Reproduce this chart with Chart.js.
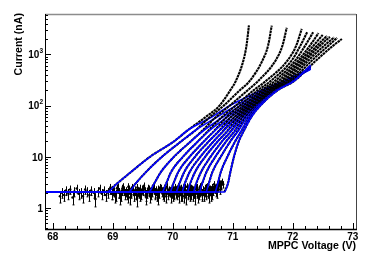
<!DOCTYPE html>
<html>
<head>
<meta charset="utf-8">
<script src="https://cdn.jsdelivr.net/npm/chart.js@4.4.1/dist/chart.umd.min.js"></script>
<style>
  html, body { margin: 0; padding: 0; background: #fff; }
  #wrap { width: 374px; height: 255px; position: relative; }
</style>
</head>
<body>
<div id="wrap"><canvas id="iv"></canvas></div>
<script>
// axis ranges (V, nA)
const xRange = [67.87, 73.055];
const yRange = [0.389, 6150];
const xMajorTicks = [68, 69, 70, 71, 72, 73];
const yMajorTicks = [1, 10, 100, 1000];
const yTickLabels = [["1", ""], ["10", ""], ["10", "2"], ["10", "3"]];

// dark current below breakdown, all scans together
const darkV = [68.12, 68.15, 68.19, 68.22, 68.26, 68.29, 68.33, 68.36, 68.40, 68.43, 68.47, 68.50, 68.54,
  68.57, 68.61, 68.64, 68.68, 68.71, 68.75, 68.78, 68.82, 68.85, 68.89, 68.92, 68.96, 68.99,
  69.02, 69.05, 69.07, 69.10, 69.12, 69.15, 69.17, 69.20, 69.22, 69.25, 69.27, 69.30, 69.32, 69.35,
  69.37, 69.40, 69.42, 69.45, 69.47, 69.50, 69.52, 69.55, 69.57, 69.60, 69.62, 69.65, 69.67, 69.70,
  69.72, 69.75, 69.77, 69.80, 69.82, 69.85, 69.87, 69.90, 69.92, 69.95, 69.97, 70.00,
  70.02, 70.04, 70.06, 70.08, 70.10, 70.12, 70.14, 70.16, 70.18, 70.20, 70.22, 70.24, 70.26, 70.28,
  70.30, 70.32, 70.34, 70.36, 70.38, 70.40, 70.42, 70.44, 70.46, 70.48, 70.50, 70.52, 70.54, 70.56,
  70.58, 70.60, 70.62, 70.64, 70.66, 70.68, 70.70, 70.72, 70.74, 70.76, 70.78, 70.80, 70.82, 70.84];
const darkI = [1.7, 2.0, 1.8, 2.2, 1.9, 2.3, 1.6, 2.1, 2.4, 1.9, 2.0, 1.7, 2.3,
  2.1, 1.8, 2.2, 2.0, 1.5, 2.1, 2.4, 1.9, 2.2, 1.8, 2.0, 2.5, 1.9,
  2.1, 1.8, 2.4, 2.0, 1.6, 2.2, 2.6, 1.9, 2.1, 1.7, 2.3, 2.0, 2.5, 1.8,
  2.2, 1.5, 2.1, 2.4, 1.9, 2.2, 2.7, 1.8, 2.0, 2.3, 1.7, 2.1, 2.5, 1.9,
  2.2, 1.6, 2.0, 2.4, 2.1, 1.8, 2.3, 2.6, 1.9, 2.1, 1.7, 2.2,
  1.9, 2.3, 2.0, 2.6, 1.7, 2.2, 2.4, 1.8, 2.1, 2.5, 1.6, 2.2, 2.0, 2.7,
  1.9, 2.3, 1.8, 2.1, 2.4, 2.0, 1.7, 2.3, 2.6, 1.9, 2.2, 1.8, 2.1, 2.5,
  2.0, 1.7, 2.3, 2.2, 1.9, 2.6, 2.4, 2.1, 2.8, 2.5, 3.0, 2.7, 3.3, 2.9];
// second pass of scans over the denser part
const darkV2 = [68.95, 68.98, 69.01, 69.04, 69.08, 69.11, 69.14, 69.16, 69.19, 69.23,
  69.26, 69.29, 69.31, 69.34, 69.38, 69.41, 69.44, 69.46, 69.49, 69.53,
  69.56, 69.59, 69.61, 69.64, 69.68, 69.71, 69.74, 69.76, 69.79, 69.83,
  69.86, 69.89, 69.91, 69.94, 69.98, 70.01, 70.03, 70.05, 70.07, 70.09,
  70.11, 70.13, 70.15, 70.17, 70.19, 70.21, 70.23, 70.25, 70.27, 70.29,
  70.31, 70.33, 70.35, 70.37, 70.39, 70.41, 70.43, 70.45, 70.47, 70.49,
  70.51, 70.53, 70.55, 70.57, 70.59, 70.61, 70.63, 70.65, 70.67, 70.69,
  70.71, 70.73, 70.75, 70.77, 70.79, 70.81];
const darkI2 = [2.3, 1.9, 2.2, 1.7, 2.5, 2.0, 1.8, 2.4, 2.2, 1.9,
  2.6, 1.6, 2.1, 2.3, 1.9, 2.5, 2.0, 1.8, 2.3, 2.1,
  1.6, 2.4, 2.2, 1.9, 2.6, 2.0, 1.8, 2.3, 2.5, 1.9,
  2.1, 1.7, 2.4, 2.2, 2.0, 1.8, 2.5, 2.2, 1.9, 2.3,
  2.7, 1.8, 2.0, 2.4, 1.7, 2.2, 2.6, 1.9, 2.1, 1.8,
  2.4, 2.2, 2.0, 1.6, 2.3, 2.5, 1.9, 2.1, 2.7, 1.8,
  2.2, 2.4, 1.9, 2.6, 2.1, 2.3, 1.8, 2.5, 2.2, 2.9,
  2.4, 2.0, 2.6, 3.1, 2.3, 2.8];
const darkErr = 0.45;

// fits: current levels and the voltage where each fit crosses them
const fitLevels = [2.05, 3, 5, 10, 20, 33, 60, 100, 200, 300];
const fitFromV = 67.87;
const fitToV = 72.3;
const fitVolts = [
  [68.90, 69.07, 69.30, 69.62, 70.02, 70.25, 70.65, 70.95, 71.48, 71.84],
  [69.26, 69.38, 69.55, 69.82, 70.14, 70.38, 70.74, 71.05, 71.54, 71.88],
  [69.60, 69.69, 69.80, 70.02, 70.30, 70.52, 70.84, 71.13, 71.59, 71.91],
  [69.82, 69.89, 69.97, 70.17, 70.42, 70.62, 70.91, 71.19, 71.62, 71.93],
  [69.95, 70.01, 70.09, 70.28, 70.52, 70.71, 70.97, 71.24, 71.64, 71.94],
  [70.05, 70.11, 70.19, 70.37, 70.60, 70.79, 71.03, 71.28, 71.66, 71.95],
  [70.15, 70.20, 70.28, 70.46, 70.68, 70.86, 71.08, 71.31, 71.68, 71.96],
  [70.24, 70.29, 70.37, 70.54, 70.75, 70.93, 71.12, 71.34, 71.69, 71.97],
  [70.34, 70.39, 70.47, 70.63, 70.82, 70.99, 71.16, 71.37, 71.70, 71.98],
  [70.44, 70.49, 70.56, 70.71, 70.89, 71.05, 71.20, 71.39, 71.71, 71.99],
  [70.55, 70.60, 70.66, 70.80, 70.96, 71.10, 71.24, 71.41, 71.72, 72.00],
  [70.70, 70.75, 70.80, 70.91, 71.04, 71.15, 71.28, 71.43, 71.73, 72.01],
  [70.86, 70.92, 70.96, 71.02, 71.10, 71.19, 71.31, 71.46, 71.75, 72.02]
];
const fitEndI = [540, 530, 520, 520, 530, 540, 550, 560, 570, 580, 590, 600, 610];

// measured scans above breakdown (last column is the end of each scan)
const scanLevels = [2.05, 3, 5, 10, 20, 33, 60, 100, 200, 300, 780, 1500];
const scanVolts = [
  [68.90, 69.07, 69.30, 69.62, 70.02, 70.25, 70.55, 70.78, 70.96, 71.05, 71.18, 71.23, 71.27],
  [69.26, 69.38, 69.55, 69.82, 70.14, 70.38, 70.62, 70.85, 71.12, 71.28, 71.50, 71.59, 71.65],
  [69.60, 69.69, 69.80, 70.02, 70.30, 70.50, 70.72, 70.95, 71.25, 71.42, 71.72, 71.83, 71.90],
  [69.82, 69.89, 69.97, 70.17, 70.42, 70.60, 70.82, 71.05, 71.35, 71.55, 71.92, 72.06, 72.15],
  [69.95, 70.01, 70.09, 70.28, 70.52, 70.70, 70.90, 71.12, 71.42, 71.63, 71.99, 72.13, 72.24],
  [70.05, 70.11, 70.19, 70.37, 70.60, 70.78, 70.97, 71.18, 71.48, 71.70, 72.05, 72.21, 72.34],
  [70.15, 70.20, 70.28, 70.46, 70.68, 70.85, 71.03, 71.23, 71.53, 71.76, 72.10, 72.29, 72.43],
  [70.24, 70.29, 70.37, 70.54, 70.75, 70.92, 71.08, 71.27, 71.57, 71.81, 72.14, 72.35, 72.50],
  [70.34, 70.39, 70.47, 70.63, 70.82, 70.98, 71.13, 71.31, 71.61, 71.85, 72.18, 72.41, 72.57],
  [70.44, 70.49, 70.56, 70.71, 70.89, 71.04, 71.17, 71.35, 71.64, 71.89, 72.22, 72.46, 72.62],
  [70.55, 70.60, 70.66, 70.80, 70.96, 71.09, 71.22, 71.38, 71.67, 71.93, 72.27, 72.53, 72.69],
  [70.70, 70.75, 70.80, 70.91, 71.04, 71.15, 71.27, 71.42, 71.70, 71.97, 72.33, 72.60, 72.74],
  [70.86, 70.92, 70.96, 71.02, 71.10, 71.19, 71.31, 71.46, 71.75, 72.02, 72.40, 72.68, 72.82]
];
const scanTopI = [3700, 3650, 3300, 3150, 2700, 2700, 2600, 2400, 2300, 2200, 2150, 2100, 2000];

const BLUE = "rgb(0,0,255)";
const FONT = '"Liberation Sans", Arial, Helvetica, sans-serif';

// each scan is drawn, then its fit on top of it, scan after scan (lower order = drawn later)
const datasets = [];
scanVolts.forEach((volts, i) => {
  const pts = volts.map((v, k) => ({ x: v, y: k < scanLevels.length ? scanLevels[k] : scanTopI[i] }));
  datasets.push({
    type: "line", label: "scan" + i, data: pts,
    borderColor: "#000", borderWidth: 2.1, borderDash: [2.6, 0.6], pointRadius: 0,
    cubicInterpolationMode: "monotone", order: 100 - 2 * i
  });

  const fit = [{ x: fitFromV, y: fitLevels[0] }];
  fitVolts[i].forEach((v, k) => fit.push({ x: v, y: fitLevels[k] }));
  fit.push({ x: fitToV, y: fitEndI[i] });
  datasets.push({
    type: "line", label: "fit" + i, data: fit,
    borderColor: BLUE, borderWidth: 1.6, pointRadius: 0,
    cubicInterpolationMode: "monotone", order: 99 - 2 * i
  });
});

const allDarkV = darkV.concat(darkV2);
const allDarkI = darkI.concat(darkI2);
datasets.push({
  type: "scatter", label: "dark",
  data: allDarkV.map((v, k) => ({ x: v, y: allDarkI[k] })),
  backgroundColor: "#000", borderColor: "#000", pointRadius: 1.3, borderWidth: 0, order: 200
});

// vertical error bars on the dark current points
const errorBars = {
  id: "errorBars",
  afterDatasetDraw(chart, args) {
    if (chart.data.datasets[args.index].label !== "dark") return;
    const { ctx, scales: { x, y } } = chart;
    ctx.save();
    ctx.strokeStyle = "#000";
    ctx.lineWidth = 1;
    ctx.beginPath();
    allDarkV.forEach((v, k) => {
      const px = Math.round(x.getPixelForValue(v)) + 0.5;
      const top = y.getPixelForValue(allDarkI[k] + darkErr);
      const bot = y.getPixelForValue(allDarkI[k] - darkErr);
      ctx.moveTo(px, top);
      ctx.lineTo(px, bot);
      ctx.moveTo(px - 1, bot);
      ctx.lineTo(px + 1, bot);
    });
    ctx.stroke();
    ctx.restore();
  }
};

// ROOT-like frame, inner ticks and labels
const rootAxes = {
  id: "rootAxes",
  afterDraw(chart) {
    const { ctx, chartArea: a, scales: { x, y } } = chart;
    ctx.save();

    // frame
    ctx.lineWidth = 1.5;
    ctx.strokeStyle = "#8c8c8c";
    ctx.beginPath();
    ctx.moveTo(a.left, a.top + 0.5);
    ctx.lineTo(a.right, a.top + 0.5);
    ctx.stroke();
    ctx.lineWidth = 1;
    ctx.strokeStyle = "#444";
    ctx.beginPath();
    ctx.moveTo(a.right + 0.5, a.top);
    ctx.lineTo(a.right + 0.5, a.bottom);
    ctx.stroke();

    ctx.strokeStyle = "#000";
    ctx.lineWidth = 1;
    ctx.beginPath();
    ctx.moveTo(a.left + 0.5, a.top);
    ctx.lineTo(a.left + 0.5, a.bottom + 1);
    ctx.stroke();
    ctx.lineWidth = 1.5;
    ctx.beginPath();
    ctx.moveTo(a.left, a.bottom + 0.5);
    ctx.lineTo(a.right + 1, a.bottom + 0.5);
    ctx.stroke();

    // x ticks
    ctx.lineWidth = 1;
    ctx.beginPath();
    for (let v = xMajorTicks[0]; v <= xMajorTicks[xMajorTicks.length - 1] + 1e-6; v += 0.2) {
      const px = Math.round(x.getPixelForValue(v)) + 0.5;
      const major = Math.abs(v - Math.round(v)) < 1e-6;
      ctx.moveTo(px, a.bottom);
      ctx.lineTo(px, a.bottom - (major ? 6 : 3));
    }
    // y ticks
    for (let d = 0.1; d < yRange[1]; d *= 10) {
      for (let m = 1; m <= 9; m++) {
        const v = d * m;
        if (v < yRange[0] || v > yRange[1]) continue;
        const py = Math.round(y.getPixelForValue(v)) + 0.5;
        ctx.moveTo(a.left, py);
        ctx.lineTo(a.left + (m === 1 ? 6 : 3), py);
      }
    }
    ctx.stroke();

    // x labels
    ctx.fillStyle = "#000";
    ctx.font = "bold 10px " + FONT;
    ctx.textAlign = "center";
    ctx.textBaseline = "middle";
    xMajorTicks.forEach(v => ctx.fillText(String(v), x.getPixelForValue(v), a.bottom + 8.5));

    // y labels with exponents
    ctx.textAlign = "right";
    yMajorTicks.forEach((v, k) => {
      const [base, exp] = yTickLabels[k];
      const py = y.getPixelForValue(v) + 1;
      let right = a.left - 2;
      if (exp) {
        ctx.font = "bold 6.5px " + FONT;
        ctx.fillText(exp, right, py - 4);
        right -= ctx.measureText(exp).width;
      }
      ctx.font = "bold 10px " + FONT;
      ctx.fillText(base, right, py);
    });

    // axis titles
    ctx.font = "bold 10.6px " + FONT;
    ctx.textAlign = "right";
    ctx.fillText("MPPC Voltage (V)", a.right, a.bottom + 17.5);
    ctx.translate(19, a.top - 1);
    ctx.rotate(-Math.PI / 2);
    ctx.fillText("Current (nA)", 0, 0);
    ctx.restore();
  }
};

new Chart(document.getElementById("iv"), {
  type: "line",
  data: { datasets },
  options: {
    responsive: true,
    maintainAspectRatio: false,
    animation: false,
    layout: { padding: { left: 45, right: 18, top: 14, bottom: 26 } },
    plugins: { legend: { display: false }, tooltip: { enabled: false } },
    scales: {
      x: { type: "linear", min: xRange[0], max: xRange[1], display: false },
      y: { type: "logarithmic", min: yRange[0], max: yRange[1], display: false }
    }
  },
  plugins: [errorBars, rootAxes]
});
</script>
</body>
</html>
